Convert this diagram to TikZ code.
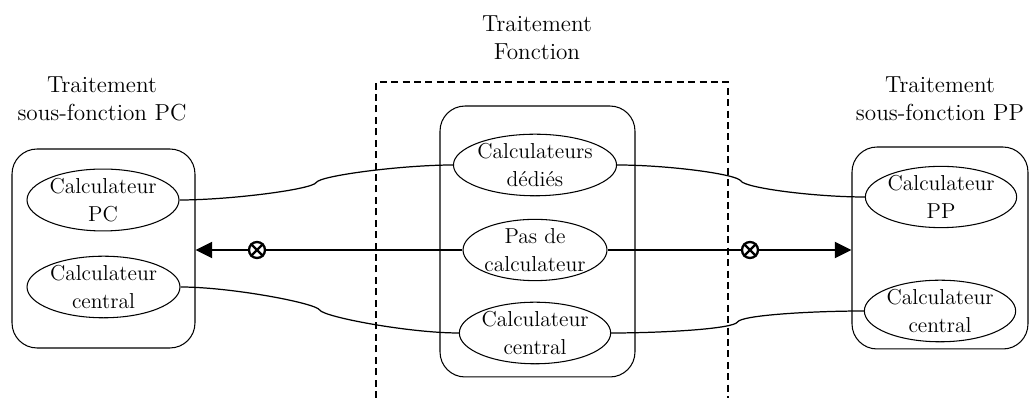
\documentclass[tikz,border=0pt]{standalone}
\usepackage{tikz}
\usetikzlibrary{arrows.meta,shapes.geometric,calc}

\begin{document}
\begin{tikzpicture}[x=0.02cm, y=0.02cm,
  every node/.style={align=center, font=\fontsize{12.3}{16}\selectfont},
  titre/.style={font=\fontsize{13.2}{16}\selectfont},
  ellip/.style={ellipse, draw, line width=0.6pt, inner sep=0pt},
  bloc/.style={draw, line width=0.6pt, rounded corners=0.5cm, inner sep=0pt},
  cadre/.style={line width=0.9pt, dash pattern=on 4pt off 2.5pt},
  fleche/.style={-{Triangle[length=9.5pt, width=9pt]}, line width=1.5pt},
  croix/.style={circle, draw, fill=white, line width=1.3pt, minimum size=0.32cm, inner sep=0pt},
  liaison/.style={to path={.. controls +(50,0) and +(-4,#1) .. ($(\tikztostart)!.5!(\tikztotarget)$) .. controls +(4,-#1) and +(-50,0) .. (\tikztotarget)}}]
\useasboundingbox (0,0) rectangle (1032,398);

% titres
\node[titre] (tpc) at (102,299) {Traitement\\sous-fonction PC};
\node[titre] (tf) at (537,360) {Traitement\\Fonction};
\node[titre] (tpp) at (940,299) {Traitement\\sous-fonction PP};

% cadre en pointilles
\draw[cadre] (376,0) |- (728,316) -- (728,0);

% blocs
\node[bloc, minimum width=3.66cm, minimum height=3.98cm] (bpc) at (103.5,149.5) {};
\node[bloc, minimum width=3.9cm, minimum height=5.42cm] (bf) at (537.5,156.5) {};
\node[bloc, minimum width=3.52cm, minimum height=4.04cm] (bpp) at (940,150) {};

% calculateurs
\node[ellip, minimum width=3.04cm, minimum height=1.12cm] (pc) at (103,198) {Calculateur\\PC};
\node[ellip, minimum width=3.06cm, minimum height=1.2cm] (cl) at (103.5,111) {Calculateur\\central};
\node[ellip, minimum width=3.16cm, minimum height=1.2cm] (dd) at (535,233) {Calculateurs\\dédiés};
\node[ellip, minimum width=2.88cm, minimum height=1.2cm] (pas) at (535,148) {Pas de\\calculateur};
\node[ellip, minimum width=2.88cm, minimum height=1.14cm] (cm) at (535,65) {Calculateur\\central};
\node[ellip, minimum width=2.76cm, minimum height=1.1cm] (pp) at (941,201) {Calculateur\\PP};
\node[ellip, minimum width=2.9cm, minimum height=1.14cm] (cr) at (940,87) {Calculateur\\central};

% liaisons
\draw[line width=0.7pt] (pc.east) to[liaison=-7] (dd.west);
\draw[line width=0.7pt] (dd.east) to[liaison=7] (pp.west);
\draw[line width=0.7pt] (cl.east) to[liaison=7] (cm.west);
\draw[line width=0.7pt] (cm.east) to[liaison=-7] (cr.west);

% fleches
\draw[fleche] (pas.west) -- (pas.west -| bpc.east);
\draw[fleche] (pas.east) -- (pas.east -| bpp.west);
\node[croix] (xg) at (257,148) {};
\node[croix] (xd) at (750,148) {};
\draw[line width=1.3pt] (xg.45) -- (xg.225) (xg.135) -- (xg.315);
\draw[line width=1.3pt] (xd.45) -- (xd.225) (xd.135) -- (xd.315);
\end{tikzpicture}
\end{document}
